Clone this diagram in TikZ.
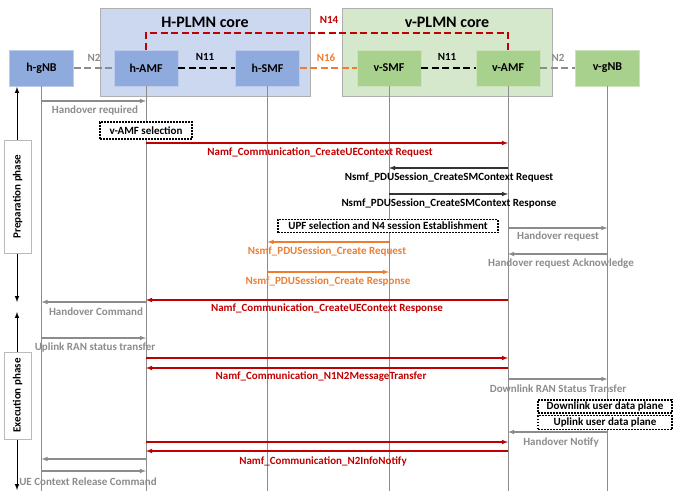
\documentclass[tikz,border=0pt]{standalone}
\usepackage{fontspec}
\setmainfont{Carlito}
\usepackage{tikz}
\definecolor{hblue}{HTML}{8FAADC}
\definecolor{hback}{HTML}{CCD8EF}
\definecolor{vgreen}{HTML}{A9D18E}
\definecolor{vback}{HTML}{D5E8CC}
\definecolor{nred}{HTML}{C00000}
\definecolor{norange}{HTML}{ED7D31}
\definecolor{ngray}{HTML}{8C8C8C}
\tikzset{
  nf/.style={minimum width=64pt, minimum height=36pt, inner sep=0pt,
    font=\fontsize{12}{12}\selectfont\bfseries},
  hnf/.style={nf, fill=hblue, draw=hblue!60!white},
  vnf/.style={nf, fill=vgreen, draw=vgreen!60!white},
  lab/.style={inner sep=0pt, font=\fontsize{11}{11}\selectfont\bfseries},
  life/.style={draw=ngray, line width=0.9pt},
  msg/.style={line width=1.1pt, -latex},
  itf/.style={line width=2.6pt, dash pattern=on 7pt off 3.5pt},
  selbox/.style={lab, draw, line width=1.6pt, dash pattern=on 1.6pt off 1.4pt,
    fill=white, inner sep=0pt},
  phase/.style={draw=ngray!60, fill=white, rotate=90, inner sep=0pt,
    font=\fontsize{11}{11}\selectfont\bfseries, minimum height=27pt}
}

\begin{document}
\begin{tikzpicture}[x=1pt, y=-1pt]
  \useasboundingbox (0,0) rectangle (675,495);
  % core networks
  \draw[draw=ngray!70, fill=hback] (100,8) rectangle (310,96);
  \draw[draw=ngray!70, fill=vback] (342,8) rectangle (552,96);
  \node[font=\fontsize{16}{16}\selectfont\bfseries] (htitle) at (205,22) {H-PLMN core};
  \node[font=\fontsize{16}{16}\selectfont\bfseries] (vtitle) at (447,22) {v-PLMN core};

  \node[hnf] (hgnb) at (41.5,68) {h-gNB};
  \node[hnf] (hamf) at (146,68) {h-AMF};
  \node[hnf] (hsmf) at (267.5,68) {h-SMF};
  \node[vnf] (vsmf) at (389,68) {v-SMF};
  \node[vnf] (vamf) at (508,68) {v-AMF};
  \node[vnf] (vgnb) at (607.5,68) {v-gNB};
  \coordinate (end) at (0,491);

  % interfaces
  \draw[itf, draw=ngray] (hgnb) -- (hamf);
  \draw[itf] (hamf) -- (hsmf);
  \draw[itf, draw=norange] (hsmf) -- (vsmf);
  \draw[itf] (vsmf) -- (vamf);
  \draw[itf, draw=ngray] (vamf) -- (vgnb);
  \draw[itf, draw=nred] (hamf.north) -- (hamf |- 0,33) -- (vamf |- 0,33) -- (vamf.north);
  \node[lab, text=ngray] (n2h) at (94,58) {N2};
  \node[lab] (n11h) at (205,57) {N11};
  \node[lab, text=norange] (n16) at (326,58) {N16};
  \node[lab] (n11v) at (447,57) {N11};
  \node[lab, text=ngray] (n2v) at (558,58) {N2};
  \node[lab, text=nred] (n14) at (329,20) {N14};

  % lifelines
  \draw[life] (hgnb.south) -- (hgnb.south |- end);
  \draw[life] (hamf.south) -- (hamf.south |- end);
  \draw[life] (hsmf.south) -- (hsmf.south |- end);
  \draw[life] (vsmf.south) -- (vsmf.south |- end);
  \draw[life] (vamf.south) -- (vamf.south |- end);
  \draw[life] (vgnb.south) -- (vgnb.south |- end);

  % phases
  \draw[line width=1pt, latex-latex] (17,87) -- (17,302);
  \draw[line width=1pt, latex-latex] (17,312) -- (17,490);
  \node[phase, minimum width=113pt] (prep) at (17.5,196.5) {Preparation phase};
  \node[phase, minimum width=87pt] (exec) at (17.5,395.5) {Execution phase};

  % preparation
  \draw[msg, ngray] (hgnb |- 0,101) -- (hamf |- 0,101);
  \node[lab, text=ngray] (l1) at (95,111) {Handover required};
  \node[selbox, minimum width=92pt, minimum height=17pt] (amfsel) at (146,130.5) {v-AMF selection};
  \draw[msg, nred] (hamf |- 0,143) -- (vamf |- 0,143);
  \node[lab, text=nred] (l2) at (320,152) {Namf\_Communication\_CreateUEContext Request};
  \draw[msg, black!80] (vamf |- 0,168) -- (vsmf |- 0,168);
  \node[lab] (l3) at (449,178) {Nsmf\_PDUSession\_CreateSMContext Request};
  \draw[msg, black!80] (vsmf |- 0,194) -- (vamf |- 0,194);
  \node[lab] (l4) at (449,204) {Nsmf\_PDUSession\_CreateSMContext Response};
  \node[selbox, minimum width=220pt, minimum height=13pt] (upfsel) at (388,226) {UPF selection and N4 session Establishment};
  \draw[msg, ngray] (vamf |- 0,228) -- (vgnb |- 0,228);
  \node[lab, text=ngray] (l5) at (558,237) {Handover request};
  \draw[msg, norange] (vsmf |- 0,242) -- (hsmf |- 0,242);
  \node[lab, text=norange] (l6) at (327,252) {Nsmf\_PDUSession\_Create Request};
  \draw[msg, ngray] (vgnb |- 0,254) -- (vamf |- 0,254);
  \node[lab, text=ngray] (l7) at (561,264) {Handover request Acknowledge};
  \draw[msg, norange] (hsmf |- 0,272) -- (vsmf |- 0,272);
  \node[lab, text=norange] (l8) at (328,282) {Nsmf\_PDUSession\_Create Response};
  \draw[msg, nred] (vamf |- 0,300) -- (hamf |- 0,300);
  \node[lab, text=nred] (l9) at (327,308) {Namf\_Communication\_CreateUEContext Response};
  \draw[msg, ngray] (hamf |- 0,302) -- (hgnb |- 0,302);
  \node[lab, text=ngray] (l10) at (96,312) {Handover Command};

  % execution
  \draw[msg, ngray] (hgnb |- 0,338) -- (hamf |- 0,338);
  \node[lab, text=ngray] (l11) at (95,348) {Uplink RAN status transfer};
  \draw[msg, nred] (hamf |- 0,358) -- (vamf |- 0,358);
  \draw[msg, nred] (vamf |- 0,368) -- (hamf |- 0,368);
  \node[lab, text=nred] (l12) at (321,377) {Namf\_Communication\_N1N2MessageTransfer};
  \draw[msg, ngray] (vamf |- 0,379) -- (vgnb |- 0,379);
  \node[lab, text=ngray] (l13) at (558,389) {Downlink RAN Status Transfer};
  \node[selbox, minimum width=134pt, minimum height=13pt] (dlup) at (605,406.5) {Downlink user data plane};
  \node[selbox, minimum width=134pt, minimum height=14pt] (ulup) at (605,422.5) {Uplink user data plane};
  \draw[msg, ngray] (vgnb |- 0,432) -- (vamf |- 0,432);
  \node[lab, text=ngray] (l14) at (561,442) {Handover Notify};
  \draw[msg, nred] (hamf |- 0,442) -- (vamf |- 0,442);
  \draw[msg, nred] (vamf |- 0,451) -- (hamf |- 0,451);
  \node[lab, text=nred] (l15) at (323,461) {Namf\_Communication\_N2InfoNotify};
  \draw[msg, ngray] (hamf |- 0,459) -- (hgnb |- 0,459);
  \draw[msg, ngray] (hgnb |- 0,471) -- (hamf |- 0,471);
  \node[lab, text=ngray] (l16) at (88,482) {UE Context Release Command};
\end{tikzpicture}
\end{document}
